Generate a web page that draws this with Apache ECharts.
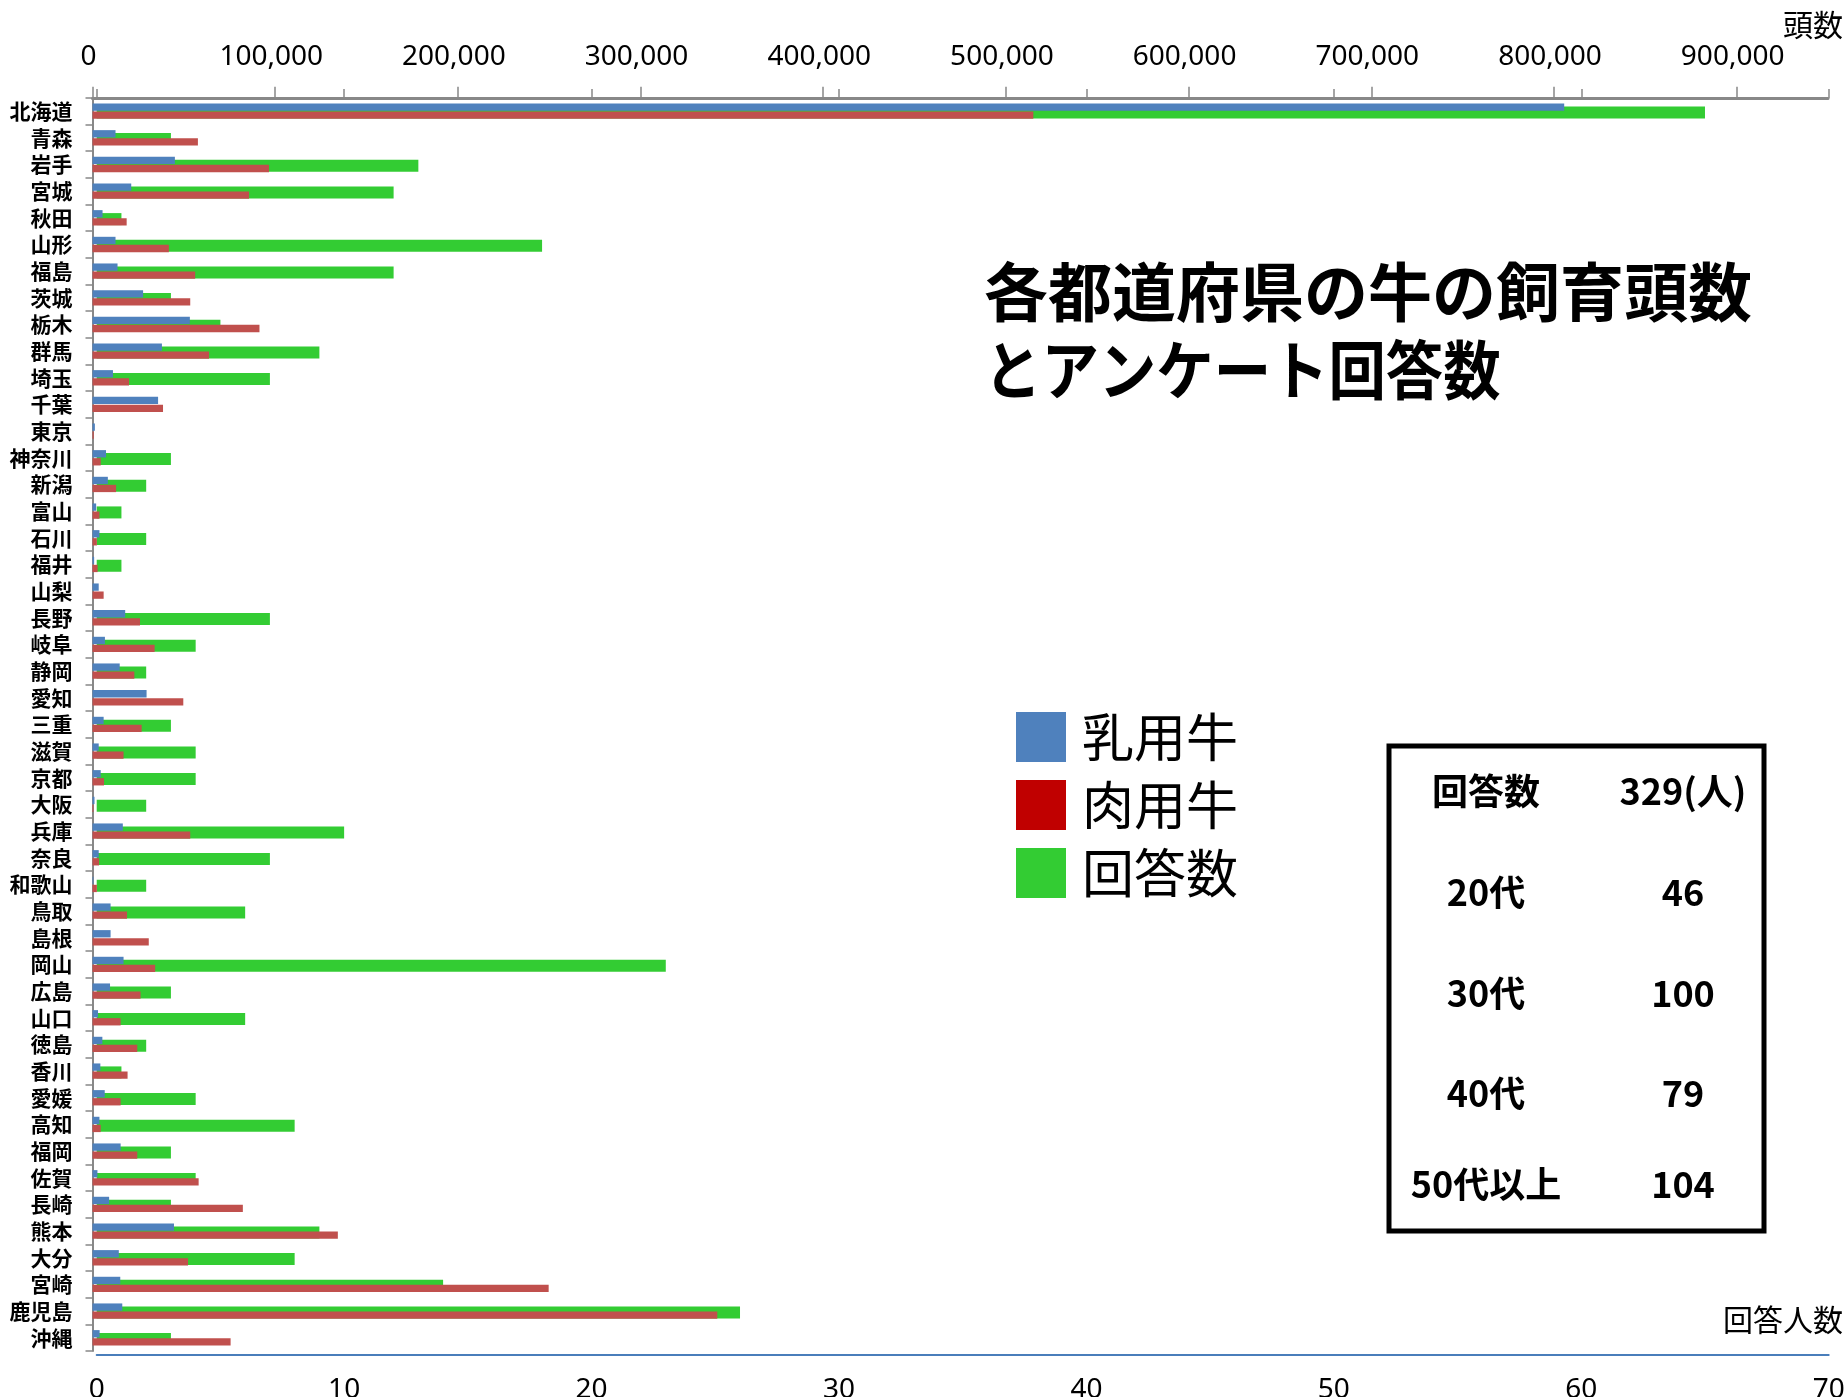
<!DOCTYPE html>
<html>
<head>
<meta charset="utf-8">
<script src="https://cdn.jsdelivr.net/npm/echarts@6/dist/echarts.min.js"></script>
<style>
html,body{margin:0;padding:0;background:#fff;}
#chart{width:1845px;height:1397px;}
</style>
</head>
<body>
<div id="chart"></div>
<script>
const prefectures = ['北海道','青森','岩手','宮城','秋田','山形','福島','茨城','栃木','群馬','埼玉','千葉','東京','神奈川','新潟','富山','石川','福井','山梨','長野','岐阜','静岡','愛知','三重','滋賀','京都','大阪','兵庫','奈良','和歌山','鳥取','島根','岡山','広島','山口','徳島','香川','愛媛','高知','福岡','佐賀','長崎','熊本','大分','宮崎','鹿児島','沖縄'];
const dairy = [805600,12600,45100,21200,5500,12600,13700,27700,53300,38000,11200,35900,1300,7400,8400,2000,3800,900,3400,17900,6800,14900,29600,6100,3400,4500,1100,16600,3400,500,9900,9900,17000,9600,3000,5400,4300,6700,3800,15400,2700,9100,44600,14400,15200,16300,3900];
const beef = [515000,57700,96600,85700,18700,41800,56200,53500,91400,63800,20000,38600,700,4500,12900,3800,2400,2800,6100,26000,34000,22900,49700,26900,17000,6300,500,53500,3600,2400,18900,30800,34300,26300,15400,24500,19200,15400,4500,24500,58100,82300,134300,52300,249700,342000,75600];
const respondents = [65,3,13,12,1,18,12,3,5,9,7,0,0,3,2,1,2,1,0,7,4,2,0,3,4,4,2,10,7,2,6,0,23,3,6,2,1,4,8,3,4,3,9,8,14,26,3];
const seriesNames = ['乳用牛','肉用牛','回答数'];
const titleLine1 = '各都道府県の牛の飼育頭数';
const titleLine2 = 'とアンケート回答数';
const headAxisName = '頭数';
const respAxisName = '回答人数';
const tableLabels = ['回答数','20代','30代','40代','50代以上'];
const tableValues = ['329(人)','46','100','79','104'];

const JP = '"Noto Sans CJK JP", "Noto Sans", sans-serif';
const NUM = '"Noto Sans", "Noto Sans CJK JP", sans-serif';

const chart = echarts.init(document.getElementById('chart'), null, {renderer:'canvas'});

const tableRowY = [791, 892, 993, 1093, 1184];
const tableGraphics = [{
  type:'rect', shape:{x:1389, y:746, width:375, height:485},
  style:{fill:'none', stroke:'#000', lineWidth:5}, z:10
}];
tableLabels.forEach((t,i)=>{
  tableGraphics.push({type:'text', x:1486, y:tableRowY[i], z:10,
    style:{text:t, align:'center', verticalAlign:'middle', fill:'#000', font:'bold 36px ' + JP}});
  tableGraphics.push({type:'text', x:1683, y:tableRowY[i], z:10,
    style:{text:tableValues[i], align:'center', verticalAlign:'middle', fill:'#000', font:'bold 36px ' + JP}});
});

const option = {
  backgroundColor:'#fff',
  animation:false,
  title:{
    text:titleLine1, left:984, top:253, padding:0,
    textStyle:{fontSize:64, fontWeight:'bold', lineHeight:78, color:'#000', fontFamily:JP}
  },
  legend:{
    orient:'vertical', left:1016, top:711, padding:0,
    itemWidth:50, itemHeight:50, itemGap:16, icon:'rect',
    selectedMode:false,
    textStyle:{fontSize:52, color:'#000', fontFamily:JP, padding:[0,0,0,11]},
    data:[
      {name:seriesNames[0], itemStyle:{color:'#4f81bd'}},
      {name:seriesNames[1], itemStyle:{color:'#c00000'}},
      {name:seriesNames[2], itemStyle:{color:'#33cc33'}}
    ]
  },
  grid:[
    {left:92.5, top:97.8, width:1735.5, height:1253.3, outerBoundsMode:'none', containLabel:false},
    {left:96.7, top:99.1, width:1732, height:1253.3, outerBoundsMode:'none', containLabel:false}
  ],
  xAxis:[
    {
      type:'value', gridIndex:0, position:'top', min:0, max:950000, interval:100000,
      axisLine:{show:true, lineStyle:{color:'#888', width:3}},
      axisTick:{show:true, length:11, lineStyle:{color:'#888', width:1.5}},
      axisLabel:{fontSize:28, color:'#000', fontFamily:NUM, margin:27, padding:[0,8,0,0],
        showMaxLabel:false,
        formatter:v => v >= 950000 ? '' : v.toLocaleString('en-US')},
      splitLine:{show:false}
    },
    {
      type:'value', gridIndex:1, position:'bottom', offset:2.5, min:0, max:70, interval:10,
      axisLine:{show:true, lineStyle:{color:'#4a7ebb', width:2}},
      axisTick:{show:false},
      axisLabel:{fontSize:28, color:'#000', fontFamily:NUM, margin:21},
      splitLine:{show:false}
    },
    {
      type:'value', gridIndex:1, position:'top', offset:1.2, min:0, max:70, interval:10,
      axisLine:{show:false},
      axisTick:{show:true, length:9, lineStyle:{color:'#888', width:1.5}},
      axisLabel:{show:false},
      splitLine:{show:false}
    }
  ],
  yAxis:[
    {
      type:'category', gridIndex:0, inverse:true, data:prefectures,
      axisLine:{show:true, lineStyle:{color:'#888', width:2}},
      axisTick:{show:true, length:7, lineStyle:{color:'#888', width:1.5}},
      axisLabel:{fontSize:21, fontWeight:'bold', color:'#000', fontFamily:JP, margin:20, interval:0}
    },
    {
      type:'category', gridIndex:1, inverse:true, data:prefectures, show:false
    }
  ],
  graphic:[
    {type:'text', x:984, y:370, scaleX:0.897, originX:0, originY:0, style:{text:titleLine2, x:0, y:0, align:'left', verticalAlign:'middle', fill:'#000', font:'bold 64px ' + JP}},
    {type:'text', x:1843, y:25, style:{text:headAxisName, align:'right', verticalAlign:'middle', fill:'#000', font:'30px ' + JP}},
    {type:'text', x:1843, y:1320, style:{text:respAxisName, align:'right', verticalAlign:'middle', fill:'#000', font:'30px ' + JP}}
  ].concat(tableGraphics),
  series:[
    {
      name:seriesNames[2], type:'bar', xAxisIndex:1, yAxisIndex:1, data:respondents,
      barWidth:12, itemStyle:{color:'#33cc33'}, z:1
    },
    {
      name:seriesNames[0], type:'bar', xAxisIndex:0, yAxisIndex:0, data:dairy,
      barWidth:7.3, barGap:'10%', itemStyle:{color:'#4f81bd'}, z:3
    },
    {
      name:seriesNames[1], type:'bar', xAxisIndex:0, yAxisIndex:0, data:beef,
      barWidth:7.3, barGap:'10%', itemStyle:{color:'#c0504d'}, z:3
    }
  ]
};
chart.setOption(option);
</script>
</body>
</html>
